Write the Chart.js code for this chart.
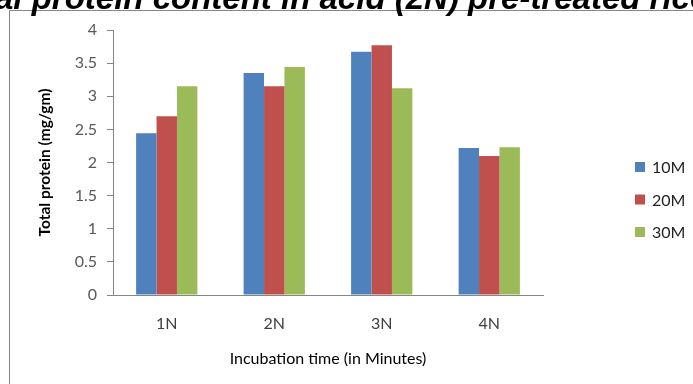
<!DOCTYPE html>
<html>
<head>
<meta charset="utf-8">
<script src="https://cdn.jsdelivr.net/npm/chart.js@4/dist/chart.umd.min.js"></script>
<style>
  html, body { margin: 0; padding: 0; background: #ffffff; }
  #wrap { width: 693px; height: 384px; position: relative; }
</style>
</head>
<body>
<div id="wrap"><canvas id="c" width="693" height="384"></canvas></div>
<script>
// Acid concentration groups on the x axis
const categories = ['1N', '2N', '3N', '4N'];
// Total protein (mg/gm) for each incubation time
const series10M = [2.44, 3.35, 3.67, 2.22];
const series20M = [2.70, 3.15, 3.77, 2.10];
const series30M = [3.15, 3.44, 3.12, 2.23];
const seriesNames = ['10M', '20M', '30M'];
const yTicks = [0, 0.5, 1, 1.5, 2, 2.5, 3, 3.5, 4];

const titleText = 'Total protein content in acid (2N) pre-treated rice';
const colors = ['#4F81BD', '#C0504D', '#9BBB59'];
const axisGray = '#868686';
const FONT = 'Lato, "Open Sans", sans-serif';

// Frame and heading drawn behind the plot
const framePlugin = {
  id: 'frame',
  beforeDraw(chart) {
    const ctx = chart.ctx;
    ctx.save();
    ctx.fillStyle = '#ffffff';
    ctx.fillRect(0, 0, chart.width, chart.height);
    ctx.strokeStyle = axisGray;
    ctx.lineWidth = 1;
    ctx.beginPath();
    ctx.moveTo(9.5, chart.height);
    ctx.lineTo(9.5, 10.5);
    ctx.lineTo(chart.width, 10.5);
    ctx.stroke();
    // heading, wider than the canvas so both ends run off the edge
    ctx.font = 'italic bold 33px "Liberation Sans", Arial, sans-serif';
    ctx.fillStyle = '#000000';
    ctx.textBaseline = 'alphabetic';
    ctx.textAlign = 'left';
    const hidden = ctx.measureText('Tot').width;
    ctx.fillText(titleText, -hidden - 5, 9);
    ctx.restore();
  }
};

// Legend on the right side
const sideLegend = {
  id: 'sideLegend',
  afterDraw(chart) {
    const ctx = chart.ctx;
    ctx.save();
    ctx.font = '16px ' + FONT;
    ctx.textBaseline = 'middle';
    ctx.textAlign = 'left';
    chart.data.datasets.forEach((ds, i) => {
      const y = 167 + i * 32.5;
      ctx.fillStyle = ds.backgroundColor;
      ctx.fillRect(635, y - 5, 10, 10);
      ctx.fillStyle = '#222222';
      ctx.fillText(ds.label, 652, y + 1);
    });
    ctx.restore();
  }
};

new Chart(document.getElementById('c'), {
  type: 'bar',
  data: {
    labels: categories,
    datasets: [
      { label: seriesNames[0], data: series10M, backgroundColor: colors[0] },
      { label: seriesNames[1], data: series20M, backgroundColor: colors[1] },
      { label: seriesNames[2], data: series30M, backgroundColor: colors[2] }
    ]
  },
  options: {
    responsive: false,
    animation: false,
    devicePixelRatio: 1,
    layout: { padding: { left: 0, right: 150, top: 30, bottom: 0 } },
    datasets: { bar: { categoryPercentage: 0.57, barPercentage: 1.0, borderWidth: 0 } },
    plugins: {
      legend: { display: false },
      tooltip: { enabled: false },
      title: { display: false }
    },
    scales: {
      x: {
        grid: { display: false, drawTicks: false },
        border: { display: true, color: axisGray, width: 1 },
        ticks: { color: '#404040', font: { family: FONT, size: 16 }, padding: 19 },
        title: {
          display: true,
          text: 'Incubation time (in Minutes)',
          color: '#000000',
          font: { family: FONT, size: 16 },
          padding: { top: 10, bottom: 16 }
        },
        afterFit(scale) { scale.height = 384 - 295; }
      },
      y: {
        min: 0,
        max: 4,
        afterBuildTicks(scale) { scale.ticks = yTicks.map(v => ({ value: v })); },
        grid: { drawOnChartArea: false, drawTicks: true, tickLength: 6, color: axisGray },
        border: { display: true, color: axisGray, width: 1 },
        ticks: {
          color: '#595959',
          font: { family: FONT, size: 16 },
          padding: 10,
          callback: (v) => String(v)
        },
        title: {
          display: true,
          text: 'Total protein (mg/gm)',
          color: '#000000',
          font: { family: FONT, size: 15.5, weight: 'bold' },
          padding: { top: 36, bottom: 0 }
        },
        afterFit(scale) { scale.width = 113; }
      }
    }
  },
  plugins: [framePlugin, sideLegend]
});
</script>
</body>
</html>
